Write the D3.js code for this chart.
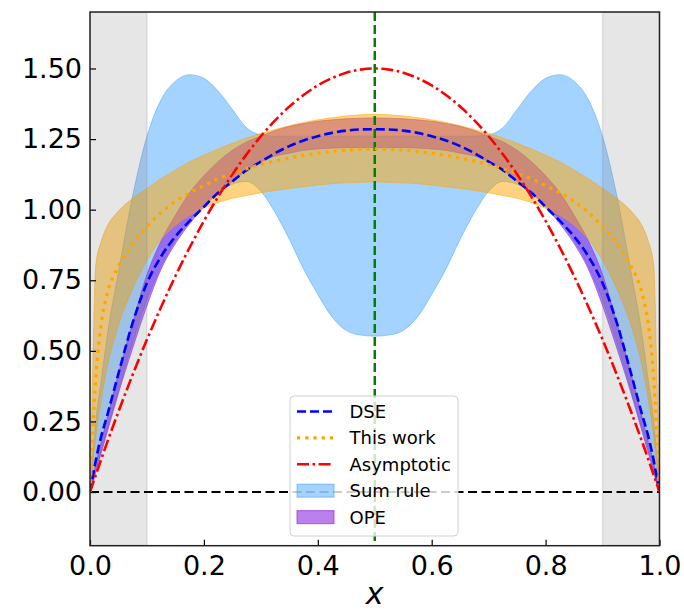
<!DOCTYPE html>
<html>
<head>
<meta charset="utf-8">
<script src="https://cdn.jsdelivr.net/npm/d3@7"></script>
<style>
  html, body { margin: 0; padding: 0; background: #fff; }
  svg { display: block; font-family: "DejaVu Sans", sans-serif; }
</style>
</head>
<body>
<svg id="chart" width="684" height="613"></svg>
<script>
// ---------------- data ----------------
const xs = [0,0.005,0.01,0.02,0.03,0.05,0.075,0.1,0.125,0.15,0.175,0.2,0.225,0.25,0.275,0.3,0.325,0.35,0.375,0.4,0.425,0.45,0.475,0.5,
            0.525,0.55,0.575,0.6,0.625,0.65,0.675,0.7,0.725,0.75,0.775,0.8,0.825,0.85,0.875,0.9,0.925,0.95,0.97,0.98,0.99,0.995,1];

const dse = [0,0.055,0.11,0.2,0.27,0.42,0.6,0.74,0.835,0.905,0.96,1.01,1.06,1.1,1.14,1.17,1.2,1.225,1.245,1.26,1.272,1.28,1.284,1.285,
             1.284,1.28,1.272,1.26,1.245,1.225,1.2,1.17,1.14,1.1,1.06,1.01,0.96,0.905,0.835,0.74,0.6,0.42,0.27,0.2,0.11,0.055,0];

const thisWork = [0,0.22,0.4,0.6,0.7,0.8,0.88,0.94,0.99,1.03,1.06,1.085,1.11,1.128,1.145,1.16,1.172,1.183,1.192,1.2,1.206,1.211,1.214,1.215,
                  1.214,1.211,1.206,1.2,1.192,1.183,1.172,1.16,1.145,1.128,1.11,1.085,1.06,1.03,0.99,0.94,0.88,0.8,0.7,0.6,0.4,0.22,0];

const asymptotic = [0,0.03,0.059,0.118,0.175,0.285,0.416,0.54,0.656,0.765,0.866,0.96,1.046,1.125,1.196,1.26,1.316,1.365,1.406,1.44,1.466,1.485,1.496,1.5,
                    1.496,1.485,1.466,1.44,1.406,1.365,1.316,1.26,1.196,1.125,1.046,0.96,0.866,0.765,0.656,0.54,0.416,0.285,0.175,0.118,0.059,0.03,0];

const sumRuleUpper = [0,0.14,0.25,0.4,0.55,0.78,1.05,1.26,1.39,1.455,1.478,1.465,1.42,1.355,1.29,1.265,1.26,1.26,1.26,1.26,1.26,1.26,1.26,1.26,
                      1.26,1.26,1.26,1.26,1.26,1.26,1.26,1.265,1.29,1.355,1.42,1.465,1.478,1.455,1.39,1.26,1.05,0.78,0.55,0.4,0.25,0.14,0];
const sumRuleLower = [0,0.035,0.075,0.15,0.22,0.36,0.53,0.68,0.8,0.89,0.96,1.02,1.06,1.09,1.1,1.065,0.99,0.895,0.79,0.7,0.62,0.572,0.556,0.552,
                      0.556,0.572,0.62,0.7,0.79,0.895,0.99,1.065,1.1,1.09,1.06,1.02,0.96,0.89,0.8,0.68,0.53,0.36,0.22,0.15,0.075,0.035,0];

const thisWorkUpper = [0,0.45,0.8,0.89,0.94,0.995,1.04,1.075,1.11,1.14,1.17,1.193,1.215,1.235,1.254,1.27,1.284,1.297,1.309,1.318,1.326,1.332,1.336,1.338,
                       1.336,1.332,1.326,1.318,1.309,1.297,1.284,1.27,1.254,1.235,1.215,1.193,1.17,1.14,1.11,1.075,1.04,0.995,0.94,0.89,0.8,0.45,0];
const thisWorkLower = [0,0.1,0.19,0.33,0.44,0.59,0.72,0.82,0.895,0.945,0.98,1.005,1.025,1.04,1.05,1.06,1.068,1.075,1.081,1.087,1.092,1.095,1.097,1.098,
                       1.097,1.095,1.092,1.087,1.081,1.075,1.068,1.06,1.05,1.04,1.025,1.005,0.98,0.945,0.895,0.82,0.72,0.59,0.44,0.33,0.19,0.1,0];

const opeLower = [0,0.03,0.07,0.14,0.21,0.35,0.51,0.66,0.79,0.88,0.95,1.01,1.06,1.1,1.14,1.17,1.19,1.2,1.21,1.215,1.218,1.22,1.22,1.22,
                  1.22,1.22,1.218,1.215,1.21,1.2,1.19,1.17,1.14,1.1,1.06,1.01,0.95,0.88,0.79,0.66,0.51,0.35,0.21,0.14,0.07,0.03,0];
const opeUpper = [0,0.05,0.1,0.18,0.26,0.42,0.6,0.77,0.89,0.98,1.06,1.12,1.17,1.21,1.24,1.26,1.28,1.295,1.305,1.313,1.318,1.322,1.324,1.325,
                  1.324,1.322,1.318,1.313,1.305,1.295,1.28,1.26,1.24,1.21,1.17,1.12,1.06,0.98,0.89,0.77,0.6,0.42,0.26,0.18,0.1,0.05,0];

const shadedSpans = [[0, 0.1], [0.9, 1.0]];
const xTicks = [0, 0.2, 0.4, 0.6, 0.8, 1.0];
const yTicks = [0, 0.25, 0.5, 0.75, 1.0, 1.25, 1.5];
const legendLabels = ["DSE", "This work", "Asymptotic", "Sum rule", "OPE"];

// ---------------- layout ----------------
const W = 684, H = 613;
const L = 90, R = 659.5, T = 12, B = 545.7;
const svg = d3.select("#chart");
const x = d3.scaleLinear().domain([0, 1]).range([L, R]);
const y = d3.scaleLinear().domain([-0.19, 1.7]).range([B, T]);

svg.append("defs").append("clipPath").attr("id", "clip")
  .append("rect").attr("x", L).attr("y", T).attr("width", R - L).attr("height", B - T);

const plot = svg.append("g").attr("clip-path", "url(#clip)");

function band(lo, hi) {
  return d3.area().x((d, i) => x(xs[i])).y0((d, i) => y(lo[i])).y1((d, i) => y(hi[i]))
    .curve(d3.curveMonotoneX)(xs);
}
function line(vals) {
  return d3.line().x((d, i) => x(xs[i])).y((d, i) => y(vals[i])).curve(d3.curveMonotoneX)(xs);
}

// Sum rule band
plot.append("path").attr("d", band(sumRuleLower, sumRuleUpper))
  .attr("fill", "rgba(30,144,255,0.4)").attr("stroke", "rgba(30,144,255,0.4)").attr("stroke-width", 1);
// OPE band
plot.append("path").attr("d", band(opeLower, opeUpper))
  .attr("fill", "rgba(138,43,226,0.6)").attr("stroke", "rgba(138,43,226,0.6)").attr("stroke-width", 1);
// This work band
plot.append("path").attr("d", band(thisWorkLower, thisWorkUpper))
  .attr("fill", "rgba(255,165,0,0.5)").attr("stroke", "rgba(255,165,0,0.5)").attr("stroke-width", 1);

// gray spans
plot.selectAll("rect.span").data(shadedSpans).enter().append("rect")
  .attr("x", d => x(d[0])).attr("width", d => x(d[1]) - x(d[0]))
  .attr("y", T).attr("height", B - T)
  .attr("fill", "rgba(128,128,128,0.2)").attr("stroke", "rgba(128,128,128,0.2)").attr("stroke-width", 1.5);

// reference lines
plot.append("line").attr("x1", x(0)).attr("x2", x(1)).attr("y1", y(0)).attr("y2", y(0))
  .attr("stroke", "#000").attr("stroke-width", 2).attr("stroke-dasharray", "9,4.5");
plot.append("line").attr("x1", x(0.5)).attr("x2", x(0.5)).attr("y1", T).attr("y2", B)
  .attr("stroke", "green").attr("stroke-width", 2.5).attr("stroke-dasharray", "9,4");

// curves
plot.append("path").attr("d", line(dse)).attr("fill", "none")
  .attr("stroke", "blue").attr("stroke-width", 2.6).attr("stroke-dasharray", "9,4");
plot.append("path").attr("d", line(thisWork)).attr("fill", "none")
  .attr("stroke", "orange").attr("stroke-width", 3.2).attr("stroke-dasharray", "3.2,5");
plot.append("path").attr("d", line(asymptotic)).attr("fill", "none")
  .attr("stroke", "red").attr("stroke-width", 2.6).attr("stroke-dasharray", "12,3.5,2.6,3.5");

// axes
const xAxis = d3.axisBottom(x).tickValues(xTicks).tickFormat(d3.format(".1f"))
  .tickSize(-6).tickSizeOuter(0).tickPadding(10);
const yAxis = d3.axisLeft(y).tickValues(yTicks).tickFormat(d3.format(".2f"))
  .tickSize(-6).tickSizeOuter(0).tickPadding(8);

const gx = svg.append("g").attr("transform", `translate(0,${B})`).call(xAxis);
const gy = svg.append("g").attr("transform", `translate(${L},0)`).call(yAxis);
[gx, gy].forEach(g => {
  g.select(".domain").remove();
  g.selectAll(".tick line").attr("stroke", "#000").attr("stroke-width", 1.2);
  g.selectAll(".tick text").attr("fill", "#000")
    .style("font-family", "'DejaVu Sans', sans-serif").style("font-size", "27px");
});

// frame
svg.append("rect").attr("x", L).attr("y", T).attr("width", R - L).attr("height", B - T)
  .attr("fill", "none").attr("stroke", "#222").attr("stroke-width", 1.5);

// x label
svg.append("text").attr("x", (L + R) / 2).attr("y", 604).attr("text-anchor", "middle")
  .style("font-family", "'DejaVu Sans', sans-serif").style("font-style", "italic")
  .style("font-size", "30px").attr("fill", "#000").text("x");

// legend
const lg = svg.append("g");
lg.append("rect").attr("x", 290).attr("y", 396).attr("width", 168).attr("height", 140)
  .attr("rx", 4).attr("fill", "rgba(255,255,255,0.8)").attr("stroke", "#d0d0d0").attr("stroke-width", 1);
const rowY = i => 411.5 + i * 26.4;
const hx0 = 297, hx1 = 334;
legendLabels.forEach((lab, i) => {
  const cy = rowY(i);
  if (i === 0) {
    lg.append("line").attr("x1", hx0).attr("x2", hx1).attr("y1", cy).attr("y2", cy)
      .attr("stroke", "blue").attr("stroke-width", 2.6).attr("stroke-dasharray", "9,4");
  } else if (i === 1) {
    lg.append("line").attr("x1", hx0).attr("x2", hx1).attr("y1", cy).attr("y2", cy)
      .attr("stroke", "orange").attr("stroke-width", 3.2).attr("stroke-dasharray", "3.2,5");
  } else if (i === 2) {
    lg.append("line").attr("x1", hx0).attr("x2", hx1).attr("y1", cy).attr("y2", cy)
      .attr("stroke", "red").attr("stroke-width", 2.6).attr("stroke-dasharray", "12,3.5,2.6,3.5");
  } else if (i === 3) {
    lg.append("rect").attr("x", hx0).attr("y", cy - 6.5).attr("width", hx1 - hx0).attr("height", 13)
      .attr("fill", "rgba(30,144,255,0.4)").attr("stroke", "rgba(30,144,255,0.4)").attr("stroke-width", 1.2);
  } else {
    lg.append("rect").attr("x", hx0).attr("y", cy - 6.5).attr("width", hx1 - hx0).attr("height", 13)
      .attr("fill", "rgba(138,43,226,0.6)").attr("stroke", "rgba(138,43,226,0.6)").attr("stroke-width", 1.2);
  }
  lg.append("text").attr("x", 349.5).attr("y", cy).attr("dy", "0.36em")
    .style("font-family", "'DejaVu Sans', sans-serif").style("font-size", "18px")
    .attr("fill", "#000").text(lab);
});
</script>
</body>
</html>
